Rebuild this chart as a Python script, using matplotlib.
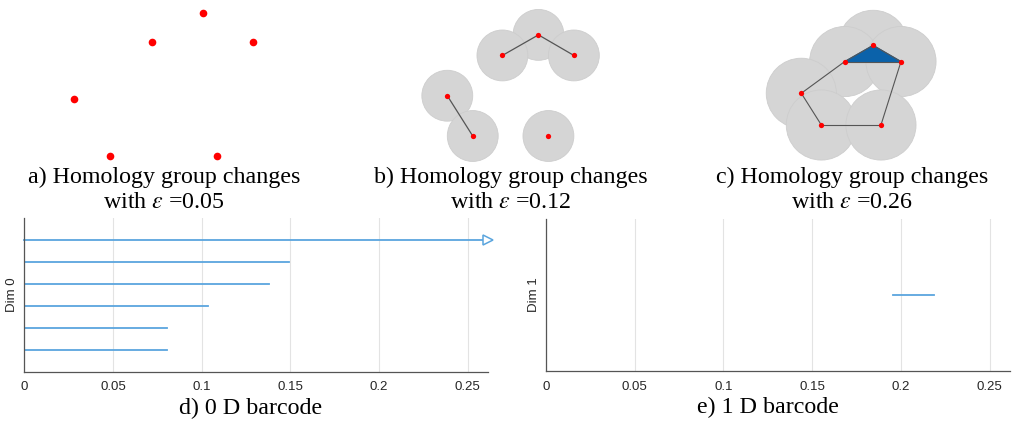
import matplotlib
matplotlib.use("Agg")
import matplotlib.pyplot as plt
from matplotlib.patches import Circle, Polygon

plt.rcParams['mathtext.fontset'] = 'stix'

# point cloud (shared by panels a-c)
pts_x = [0.43, 0.26, 0.597, 0.0, 0.12, 0.477]
pts_y = [0.477, 0.38, 0.38, 0.19, 0.0, 0.0]

# simplicial complex at each epsilon
edges_b = [(1, 0), (0, 2), (3, 4)]
edges_c = [(1, 0), (0, 2), (1, 3), (3, 4), (4, 5), (5, 2), (1, 2)]
triangle_c = [0, 1, 2]
radius_b = 0.12
radius_c = 0.21

captions_top = ["a) Homology group changes", "b) Homology group changes", "c) Homology group changes"]
eps_vals = ["0.05", "0.12", "0.26"]

# barcodes
dim0_death = [0.0803, 0.0803, 0.1034, 0.1378, 0.1494, None]  # None -> infinite
dim1_birth = [0.1956]
dim1_death = [0.2185]
xmax = 0.2615
xticks = [0, 0.05, 0.1, 0.15, 0.2, 0.25]
xticklabels = ["0", "0.05", "0.1", "0.15", "0.2", "0.25"]

W, H = 1013, 421
fig = plt.figure(figsize=(W / 100, H / 100), dpi=100)


def px_axes(left, top, width, height):
    return fig.add_axes([left / W, 1 - (top + height) / H, width / W, height / H])


def cloud_axes(left, top, width, height, ox, oy, s):
    ax = px_axes(left, top, width, height)
    ax.set_xlim((left - ox) / s, (left + width - ox) / s)
    ax.set_ylim((oy - (top + height)) / s, (oy - top) / s)
    ax.axis('off')
    return ax


blue = '#5aa5de'
gray_fill = '#d5d5d5'

# a) bare points
ax_a = cloud_axes(0, 0, 338, 168, 74, 156, 300)
ax_a.plot(pts_x, pts_y, 'o', color='red', markersize=5.5, markeredgewidth=0)

# b) balls of radius 0.12
ax_b = cloud_axes(338, 0, 338, 168, 447.3, 136, 212)
for x, y in zip(pts_x, pts_y):
    ax_b.add_patch(Circle((x, y), radius_b, facecolor=gray_fill, edgecolor='#cdcdcd', lw=0.6))
for i, j in edges_b:
    ax_b.plot([pts_x[i], pts_x[j]], [pts_y[i], pts_y[j]], color='#555555', lw=0.9)
ax_b.plot(pts_x, pts_y, 'o', color='red', markersize=3.8, markeredgewidth=0)

# c) balls of radius 0.21
ax_c = cloud_axes(676, 0, 337, 168, 801.3, 125, 167)
for x, y in zip(pts_x, pts_y):
    ax_c.add_patch(Circle((x, y), radius_c, facecolor=gray_fill, edgecolor='#cdcdcd', lw=0.6))
ax_c.add_patch(Polygon([(pts_x[k], pts_y[k]) for k in triangle_c], closed=True,
                       facecolor='#0b62aa', edgecolor='#0b62aa', lw=0.8))
for i, j in edges_c:
    ax_c.plot([pts_x[i], pts_x[j]], [pts_y[i], pts_y[j]], color='#555555', lw=0.8)
ax_c.plot(pts_x, pts_y, 'o', color='red', markersize=3.8, markeredgewidth=0)

serif = 'Liberation Serif'
cap_size = 17.3
for cx, cap, eps in zip([164, 511, 852], captions_top, eps_vals):
    fig.text(cx / W, 1 - 177 / H, cap, ha='center', va='center', family=serif, fontsize=cap_size)
    fig.text(cx / W, 1 - 202 / H, "with $\\varepsilon$ =" + eps, ha='center', va='center',
             family=serif, fontsize=cap_size)


def barcode_axes(left, right, top, bottom, label):
    ax = px_axes(left, top, right - left, bottom - top)
    ax.set_xlim(0, xmax)
    ax.set_xticks(xticks)
    ax.set_xticklabels(xticklabels, family='Liberation Sans', fontsize=9.5, color='#262626')
    ax.set_yticks([])
    ax.tick_params(axis='x', length=0, pad=7)
    ax.grid(axis='x', color='#e3e3e3', lw=0.8)
    ax.set_axisbelow(True)
    for side in ['top', 'right']:
        ax.spines[side].set_visible(False)
    for side in ['left', 'bottom']:
        ax.spines[side].set_color('#555555')
        ax.spines[side].set_linewidth(0.9)
    ax.set_ylabel(label, family='Liberation Sans', fontsize=9.5, color='#262626', va='center')
    ax.yaxis.set_label_coords(-12.5 / (right - left), 0.5)
    return ax


# d) 0 D barcode
ax_d = barcode_axes(24.3, 488, 218, 371.7, "Dim 0")
ax_d.set_ylim(0, len(dim0_death) + 1)
for k, d in enumerate(dim0_death):
    yv = k + 1
    if d is None:
        ax_d.plot([0, xmax], [yv, yv], color=blue, lw=1.3, clip_on=False)
        ax_d.plot([xmax], [yv], marker='>', markersize=7, markerfacecolor='white',
                  markeredgecolor=blue, markeredgewidth=1.1, clip_on=False)
    else:
        ax_d.plot([0, d], [yv, yv], color=blue, lw=1.3)
fig.text(251 / W, 1 - 408 / H, "d) 0 D barcode", ha='center', va='center', family=serif, fontsize=cap_size)

# e) 1 D barcode
ax_e = barcode_axes(546, 1010, 219, 371, "Dim 1")
ax_e.set_ylim(0, len(dim1_birth) + 1)
for k, (b, d) in enumerate(zip(dim1_birth, dim1_death)):
    ax_e.plot([b, d], [k + 1, k + 1], color=blue, lw=1.3)
fig.text(768 / W, 1 - 407 / H, "e) 1 D barcode", ha='center', va='center', family=serif, fontsize=cap_size)

fig.savefig("out.png", dpi=100)
